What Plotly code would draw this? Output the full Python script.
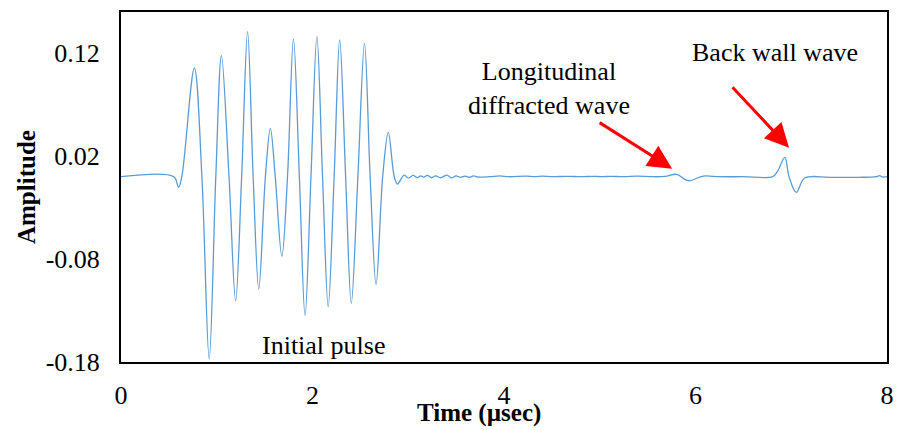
import plotly.graph_objects as go

# ---- data ----
time_us = [
    0.0, 0.552, 0.600, 0.635, 0.766, 0.845, 0.921, 0.990, 1.049, 1.128, 1.197, 1.260,
    1.322, 1.380, 1.439, 1.508, 1.560, 1.611, 1.680, 1.739, 1.801, 1.863, 1.922, 1.984,
    2.046, 2.105, 2.164, 2.226, 2.284, 2.346, 2.405, 2.474, 2.543, 2.602, 2.664, 2.733,
    2.792, 2.854, 2.888, 2.957, 3.002, 3.050, 3.095, 3.130, 3.164, 3.199, 3.244, 3.285,
    3.337, 3.406, 3.450, 3.499, 3.544, 3.595, 3.637, 3.682, 3.727, 3.85, 3.958, 4.05,
    4.234, 4.32, 4.407, 4.50, 4.666, 4.80, 4.94, 5.02, 5.11, 5.25, 5.39, 5.55,
    5.683, 5.804, 5.925, 6.080, 6.25, 6.50, 6.805, 6.856, 6.933, 6.977, 7.053, 7.140,
    7.40, 7.70, 7.89, 7.92, 7.96, 8.0,
]
amplitude = [
    0.0, 0.0, -0.0104, 0.0, 0.1056, 0.0, -0.1771, 0.0, 0.1176, 0.0, -0.1205, 0.0,
    0.1409, 0.0, -0.1091, 0.0, 0.0470, 0.0, -0.0774, 0.0, 0.1337, 0.0, -0.1350, 0.0,
    0.1360, 0.0, -0.1263, 0.0, 0.1328, 0.0, -0.1231, 0.0, 0.1295, 0.0, -0.1049, 0.0,
    0.0431, 0.0, -0.0071, 0.0015, -0.0013, 0.0013, -0.0008, 0.0008, -0.0005, 0.0013, -0.0010, 0.0008,
    -0.0010, 0.0015, -0.0012, 0.0008, -0.0006, 0.0006, -0.0006, 0.0008, -0.0003, 0.0, 0.0008, 0.0,
    0.0005, 0.0, 0.0006, 0.0, 0.0004, 0.0, 0.0004, 0.0, 0.0004, 0.0, 0.0005, 0.0,
    0.0003, 0.0023, -0.0039, 0.0006, 0.0, 0.0, 0.0, 0.0050, 0.0188, 0.0, -0.0152, -0.0013,
    -0.0006, -0.0006, 0.0, 0.0010, -0.0003, 0.0,
]

x_ticks = [0, 2, 4, 6, 8]
y_ticks = [-0.18, -0.08, 0.02, 0.12]
y_tick_text = ["-0.18", "-0.08", "0.02", "0.12"]

label_texts = ["Initial pulse", "Longitudinal<br>diffracted wave", "Back wall wave"]
label_x = [2.112, 4.472, 6.832]
label_y = [-0.164, 0.0855, 0.1205]

arrow_x = [5.756, 6.977]
arrow_y = [0.0078, 0.0282]
arrow_ax = [-74, -58]
arrow_ay = [-47, -62]

FONT = "Liberation Serif, Times New Roman, serif"

fig = go.Figure()
fig.add_trace(go.Scatter(
    x=time_us, y=amplitude, mode="lines",
    line=dict(color="#5B9BD5", width=1.3, shape="spline", smoothing=1.0),
    hoverinfo="skip", showlegend=False,
))

annotations = []
for t, xv, yv in zip(label_texts, label_x, label_y):
    annotations.append(dict(x=xv, y=yv, xref="x", yref="y", text=t, showarrow=False,
                            font=dict(family=FONT, size=26, color="black"),
                            xanchor="center", yanchor="middle", align="center"))
for xv, yv, ax, ay in zip(arrow_x, arrow_y, arrow_ax, arrow_ay):
    annotations.append(dict(x=xv, y=yv, xref="x", yref="y", text="", showarrow=True,
                            ax=ax, ay=ay, arrowcolor="#FF0000", arrowwidth=3,
                            arrowhead=2, arrowsize=1.6, standoff=0))
# axis titles
annotations.append(dict(x=0.467, y=-0.145, xref="paper", yref="paper",
                        text="<b>Time (µsec)</b>", showarrow=False,
                        font=dict(family=FONT, size=25, color="black"),
                        xanchor="center", yanchor="middle"))
annotations.append(dict(x=-0.124, y=0.5, xref="paper", yref="paper",
                        text="<b>Amplitude</b>", showarrow=False, textangle=-90,
                        font=dict(family=FONT, size=25, color="black"),
                        xanchor="center", yanchor="middle"))

fig.update_layout(
    width=901, height=430,
    margin=dict(l=121, r=7, t=12, b=68),
    paper_bgcolor="white", plot_bgcolor="white",
    font=dict(family=FONT, size=26, color="black"),
    annotations=annotations,
    xaxis=dict(range=[0, 8], tickvals=x_ticks, showgrid=False, zeroline=False,
               showline=True, mirror=True, linecolor="black", linewidth=2,
               ticks="", ticklabelstandoff=9,
               tickfont=dict(family=FONT, size=26, color="black")),
    yaxis=dict(range=[-0.18, 0.16], tickvals=y_ticks, ticktext=y_tick_text,
               showgrid=False, zeroline=False,
               showline=True, mirror=True, linecolor="black", linewidth=2,
               ticks="", ticklabelstandoff=14,
               tickfont=dict(family=FONT, size=26, color="black")),
)

# remove the browser's default body margin so the figure fills the window exactly
fig.write_html(
    "out.html",
    config={"displayModeBar": False},
    post_script="document.body.style.margin='0';document.body.style.overflow='hidden';",
)
